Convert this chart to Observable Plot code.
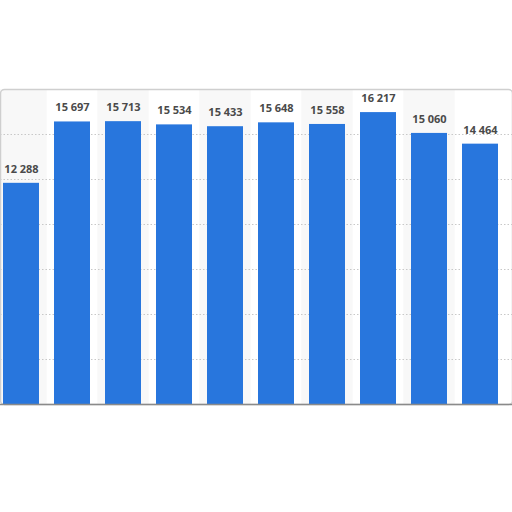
<!DOCTYPE html>
<html>
<head>
<meta charset="utf-8">
<script src="https://cdn.jsdelivr.net/npm/d3@7"></script>
<script src="https://cdn.jsdelivr.net/npm/@observablehq/plot@0.6"></script>
<style>
  html, body { margin: 0; padding: 0; background: #fff; }
  #chart svg { display: block; }
</style>
</head>
<body>
<div id="chart"></div>
<script>
const categories = ["1", "2", "3", "4", "5", "6", "7", "8", "9", "10"];
const values = [12288, 15697, 15713, 15534, 15433, 15648, 15558, 16217, 15060, 14464];
const gridTicks = [2500, 5000, 7500, 10000, 12500, 15000];

const data = categories.map((c, i) => ({cat: c, value: values[i], stripe: i % 2 === 0}));
const fmt = d3.formatLocale({decimal: ".", thousands: " ", grouping: [3], currency: ["", ""]}).format(",d");

const chart = Plot.plot({
  width: 512,
  height: 512,
  marginTop: 89,
  marginBottom: 108,
  marginLeft: 0,
  marginRight: 0,
  style: {background: "#fff", fontFamily: "Open Sans, Roboto, sans-serif"},
  x: {domain: categories, range: [-6, 506], paddingInner: 0.3, paddingOuter: 0.15, axis: null},
  y: {domain: [0, 17500], axis: null},
  marks: [
    Plot.barY(data.filter(d => d.stripe), {x: "cat", y1: 0, y2: 17500, fill: "#f8f8f8", insetLeft: -7.7, insetRight: -7.7}),
    Plot.ruleY(gridTicks, {stroke: "#c8c8c8", strokeDasharray: "1.5,2", strokeWidth: 1}),
    Plot.frame({stroke: "#cfcfcf", strokeWidth: 1.5, rx: 4}),
    Plot.barY(data, {x: "cat", y: "value", fill: "#2876dd"}),
    Plot.ruleY([0], {stroke: "#8a8a8a", strokeWidth: 1.5}),
    Plot.text(data, {x: "cat", y: "value", text: d => fmt(d.value), dy: -14, fill: "#4a4a4a", fontSize: 11, fontWeight: "bold", textAnchor: "middle", lineAnchor: "middle"})
  ]
});
document.getElementById("chart").appendChild(chart);
</script>
</body>
</html>
